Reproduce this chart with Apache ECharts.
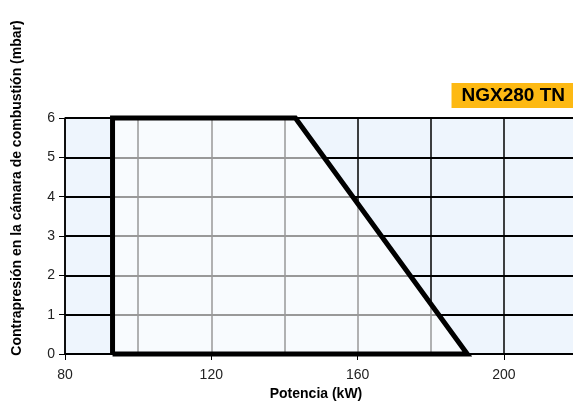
<!DOCTYPE html>
<html><head><meta charset="utf-8">
<script src="https://cdn.jsdelivr.net/npm/echarts@6/dist/echarts.min.js"></script>
<style>html,body{margin:0;padding:0;background:#fff}#c{width:573px;height:405px}</style>
</head><body><div id="c"></div>
<script>
const xTickValues = [80, 120, 160, 200];
const yTickValues = [0, 1, 2, 3, 4, 5, 6];
const rangeX = [93, 93, 143, 190, 93];
const rangeY = [0, 6, 6, 0, 0];
const modelName = 'NGX280 TN';
const xTitle = 'Potencia (kW)';
const yTitle = 'Contrapresión en la cámara de combustión (mbar)';

const font = "'Liberation Sans', Arial, Helvetica, sans-serif";
const chart = echarts.init(document.getElementById('c'));
chart.setOption({
  animation: false,
  textStyle: { fontFamily: font },
  grid: { left: 65, top: 118, bottom: 51, right: -4, outerBoundsMode: 'none', containLabel: false,
          show: true, backgroundColor: '#eef5fd', borderWidth: 0 },
  title: {
    text: modelName, right: 0, top: 83,
    backgroundColor: '#fdb913', padding: [3, 8, 3, 10],
    textStyle: { fontSize: 19, fontWeight: 'bold', color: '#000', fontFamily: font, lineHeight: 19 }
  },
  xAxis: {
    type: 'value', min: xTickValues[0], max: 220, interval: 40,
    name: xTitle, nameLocation: 'middle', nameGap: 33,
    nameTextStyle: { fontSize: 14, fontWeight: 'bold', color: '#000', padding: [0, 10, 0, 0] },
    axisLine: { show: false },
    axisTick: { show: true, length: 6, lineStyle: { color: '#000', width: 1 } },
    axisLabel: { fontSize: 14, color: '#222', margin: 14,
      formatter: v => xTickValues.includes(v) ? String(v) : '' },
    splitLine: { show: true, lineStyle: { color: '#000', width: 1.5 } },
    minorTick: { show: false, splitNumber: 2 },
    minorSplitLine: { show: true, lineStyle: { color: '#000', width: 1.5 } }
  },
  yAxis: {
    type: 'value', min: 0, max: 6, interval: 1,
    axisLine: { show: true, lineStyle: { color: '#000', width: 1.5 } },
    axisTick: { show: true, length: 6, lineStyle: { color: '#000', width: 1 } },
    axisLabel: { fontSize: 14, color: '#222', margin: 10,
      formatter: v => yTickValues.includes(v) ? String(v) : '' },
    splitLine: { show: true, lineStyle: { color: '#000', width: 1.8 } }
  },
  graphic: [{
    type: 'text', x: 10, y: 188, rotation: Math.PI / 2, origin: [0, 0],
    style: { text: yTitle, font: 'bold 14px ' + font, fill: '#000', align: 'center', verticalAlign: 'top' }
  }],
  series: [{
    type: 'line', symbol: 'none', z: 5,
    data: rangeX.map((x, i) => [x, rangeY[i]]),
    lineStyle: { color: '#000', width: 5, join: 'miter' },
    areaStyle: { color: '#ffffff', opacity: 0.6, origin: 'start' },
    clip: false
  }]
});
</script></body></html>
